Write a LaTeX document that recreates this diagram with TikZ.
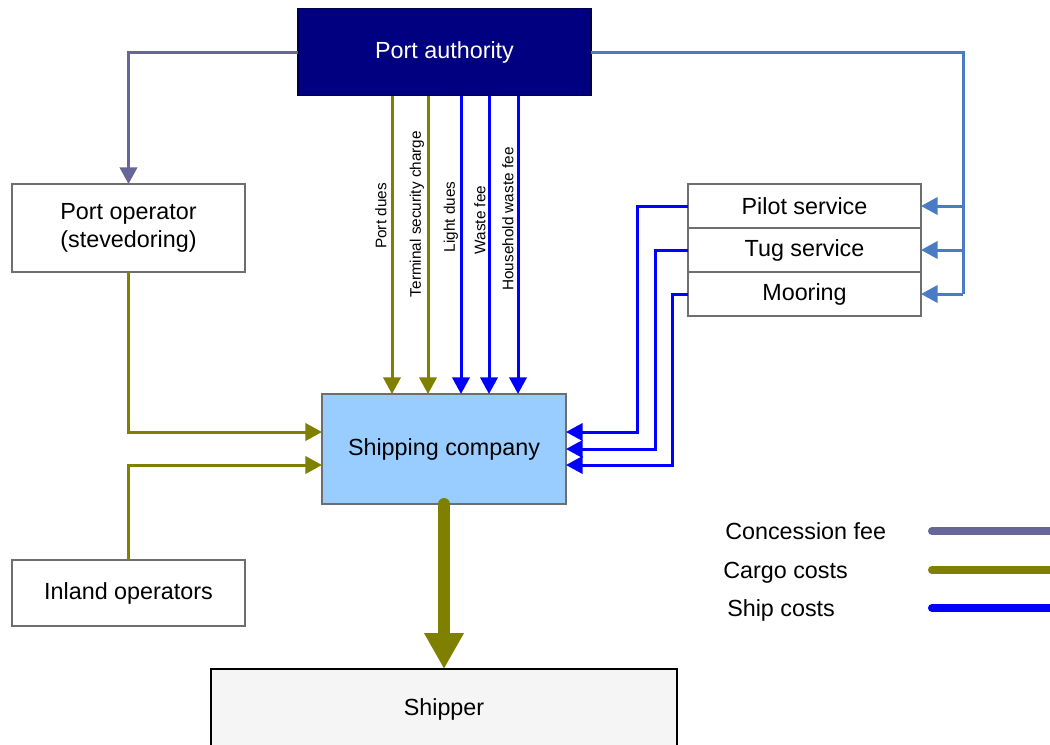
\documentclass[tikz,border=0pt]{standalone}
\usepackage{fontspec}
\setmainfont{Liberation Sans}
\usetikzlibrary{arrows.meta,calc}
\definecolor{navyfill}{HTML}{000080}
\definecolor{cargo}{HTML}{808000}
\definecolor{ship}{HTML}{0000FF}
\definecolor{conc}{HTML}{666699}
\definecolor{steel}{HTML}{4A7BC4}
\definecolor{scfill}{HTML}{99CCFF}
\definecolor{shfill}{HTML}{F5F5F5}
\definecolor{boxline}{HTML}{6E6E6E}
\tikzset{
  box/.style={draw=boxline, line width=0.9pt, fill=white, inner sep=0pt, outer sep=0pt, align=center,
    font=\fontsize{17.5}{21}\selectfont},
  tip/.style={-{Triangle[length=12.5pt,width=13pt]}},
  cargoline/.style={draw=cargo, line width=2.25pt, tip, color=cargo},
  shipline/.style={draw=ship, line width=2.25pt, tip, color=ship},
  concline/.style={draw=conc, line width=2.25pt, tip, color=conc},
  steelline/.style={draw=steel, line width=2.25pt, color=steel},
  feelabel/.style={rotate=90, font=\fontsize{11.5}{13}\selectfont, inner sep=0pt},
  legtext/.style={anchor=base west, font=\fontsize{17.5}{21}\selectfont, inner sep=0pt},
  legline/.style={line width=6pt, line cap=round},
}
\begin{document}
\begin{tikzpicture}[x=0.75pt,y=-0.75pt]
\useasboundingbox (0,0) rectangle (1050,744);
\clip (0,0) rectangle (1050,744);
% nodes
\node[box, fill=navyfill, draw=navyfill!60!black, text=white, minimum width=219.75pt, minimum height=65.25pt] (pa) at (444.5,52) {Port authority};
\node[box, minimum width=174.75pt, minimum height=66pt] (po) at (128.5,228) {Port operator\\(stevedoring)};
\node[box, minimum width=174.75pt, minimum height=33pt] (pilot) at (804.5,206) {Pilot service};
\node[box, minimum width=174.75pt, minimum height=33pt] (tug) at (804.5,250) {Tug service};
\node[box, minimum width=174.75pt, minimum height=33pt] (moor) at (804.5,294) {Mooring};
\node[box, fill=scfill, minimum width=183pt, minimum height=82.5pt] (sc) at (444,449) {Shipping company};
\node[box, minimum width=174.75pt, minimum height=49.5pt] (io) at (128.5,593) {Inland operators};
\node[box, fill=shfill, draw=black, minimum width=349.5pt, minimum height=78pt] (sh) at (444,721) {Shipper\\\phantom{S}};
% concession fee
\draw[concline] (pa.west) -| (po.north);
% right side steel blue
\coordinate (rx) at (963,0);
\coordinate (rr) at (pa.east -| rx);
\draw[steelline] (pa.east) -- (rr) -- (rr |- moor.east);
\draw[steelline, tip] (rr |- pilot.east) -- (pilot.east);
\draw[steelline, tip] (rr |- tug.east) -- (tug.east);
\draw[steelline, tip] (rr |- moor.east) -- (moor.east);
% fee lines
\coordinate (f1) at (392,0);
\coordinate (f2) at (428,0);
\coordinate (f3) at (461,0);
\coordinate (f4) at (489,0);
\coordinate (f5) at (518,0);
\draw[cargoline] (pa.south -| f1) -- (sc.north -| f1);
\draw[cargoline] (pa.south -| f2) -- (sc.north -| f2);
\draw[shipline] (pa.south -| f3) -- (sc.north -| f3);
\draw[shipline] (pa.south -| f4) -- (sc.north -| f4);
\draw[shipline] (pa.south -| f5) -- (sc.north -| f5);
\node[feelabel] (l1) at (381,216) {Port dues};
\node[feelabel] (l2) at (417,214) {Terminal security charge};
\node[feelabel] (l3) at (451,217) {Light dues};
\node[feelabel] (l4) at (480,220) {Waste fee};
\node[feelabel] (l5) at (508,219) {Household waste fee};
% cargo in from left
\draw[cargoline] (po.south) |- ([yshift=12.75pt]sc.west);
\draw[cargoline] (io.north) |- ([yshift=-12pt]sc.west);
% ship costs from services
\coordinate (e1) at ([yshift=12.75pt]sc.east);
\coordinate (e2) at (sc.east);
\coordinate (e3) at ([yshift=-12pt]sc.east);
\coordinate (j1) at (637,0);
\coordinate (j2) at (655,0);
\coordinate (j3) at (672,0);
\draw[shipline] (pilot.west) -| (e1 -| j1) -- (e1);
\draw[shipline] (tug.west) -| (e2 -| j2) -- (e2);
\draw[shipline] (moor.west) -| (e3 -| j3) -- (e3);
% thick arrow
\draw[cargo, line width=9pt, line cap=round, -{Triangle[length=27pt,width=28pt]}] (sc.south) -- (sh.north);
% legend
\node[legtext] (t1) at (725,539.5) {Concession fee};
\node[legtext] (t2) at (723,578) {Cargo costs};
\node[legtext] (t3) at (727,616.5) {Ship costs};
\coordinate (a1) at (932,531);
\coordinate (b1) at (1070,531);
\coordinate (a2) at (932,570);
\coordinate (b2) at (1070,570);
\coordinate (a3) at (932,608);
\coordinate (b3) at (1070,608);
\draw[legline, conc] (a1) -- (b1);
\draw[legline, cargo] (a2) -- (b2);
\draw[legline, ship] (a3) -- (b3);
\end{tikzpicture}
\end{document}
